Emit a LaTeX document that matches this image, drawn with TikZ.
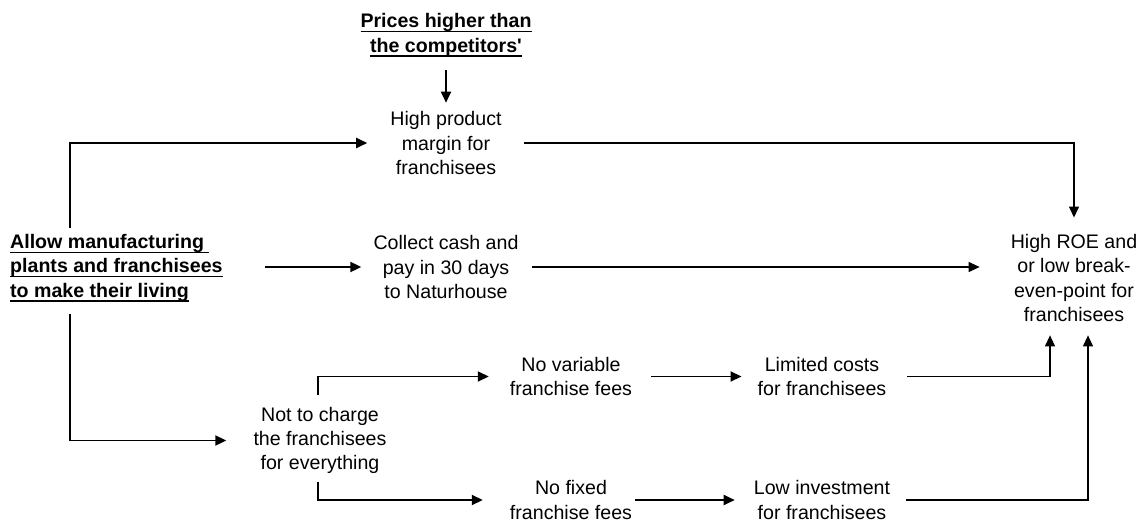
\documentclass[tikz,border=0pt]{standalone}
\usepackage{fontspec}
\setmainfont{Liberation Sans}
\usetikzlibrary{arrows.meta, positioning}

% underline at a fixed depth below the baseline, word-processor style
\newcommand{\undl}[1]{\setbox0\hbox{#1}\rlap{\rule[-4.5pt]{\wd0}{1.3pt}}\box0}

\begin{document}
\begin{tikzpicture}[
  x=1pt, y=-1pt,
  font=\fontsize{19.6}{24.3}\selectfont,
  >={Triangle[length=11pt, width=10pt]},
  txt/.style  ={inner sep=0pt, align=center},
  goal/.style ={inner sep=0pt, align=left, font=\fontsize{19.6}{24.3}\selectfont\bfseries},
  arr/.style  ={->, line width=1.8pt},
  thin/.style ={->, line width=1.2pt}
]
\useasboundingbox (0,0) rectangle (1147,522);

% ---- top and left ----
\node[goal, align=center] (prices) at (446,35)
  {\undl{Prices higher than}\\\undl{the competitors\textquotesingle}};
\node[goal, anchor=west] (allow) at (10,268)
  {\undl{Allow manufacturing\ }\\\undl{plants and franchisees}\\\undl{to make their living}};

% ---- middle column ----
\node[txt] (margin)  at (446,143) {High product\\margin for\\franchisees};
\node[txt] (collect) at (446,267) {Collect cash and\\pay in 30 days\\to Naturhouse};
\node[txt] (charge)  at (320,440.5) {Not to charge\\the franchisees\\for everything};

% ---- fees rows ----
\node[txt] (novar)   at (571,376.5) {No variable\\franchise fees};
\node[txt] (limited) at (822,376.5) {Limited costs\\for franchisees};
\node[txt] (nofix)   at (571,500) {No fixed\\franchise fees};
\node[txt] (lowinv)  at (822,500) {Low investment\\for franchisees};

% ---- result ----
\node[txt] (roe) at (1074,278) {High ROE and\\or low break-\\even-point for\\franchisees};

% ---- edges ----
\draw[arr, shorten <=13.5pt, shorten >=8.6pt] (prices.south) -- (margin.north);
\draw[arr, shorten <=6.6pt, shorten >=23pt] ([xshift=60pt]allow.north west) |- (margin.west);
\draw[arr, shorten <=12.5pt, shorten >=27pt] ([xshift=60pt]allow.south west) |- (charge.west);
\draw[arr, shorten <=42pt, shorten >=12pt] (collect.west -| allow.east) -- (collect.west);
\draw[thin, shorten <=22pt, shorten >=16.6pt] (margin.east) -| (roe.north);
\draw[thin, shorten <=13pt, shorten >=31pt] (collect.east) -- (collect.east -| roe.west);

\draw[arr, shorten <=11.6pt, shorten >=21pt] ([xshift=-2pt]charge.north) |- (novar.west);
\draw[arr, shorten <=7.5pt, shorten >=27pt] ([xshift=-2pt]charge.south) |- (nofix.west);
\draw[arr, shorten <=19pt, shorten >=16pt] (novar.east) -- (limited.west);
\draw[arr, shorten <=3pt, shorten >=19pt] (nofix.east) -- (lowinv.west);

\draw[thin, shorten <=21pt, shorten >=13.5pt] (limited.east) -| ([xshift=-24pt]roe.south);
\draw[thin, shorten <=16pt, shorten >=13.5pt] (lowinv.east) -| ([xshift=14pt]roe.south);

\end{tikzpicture}
\end{document}
